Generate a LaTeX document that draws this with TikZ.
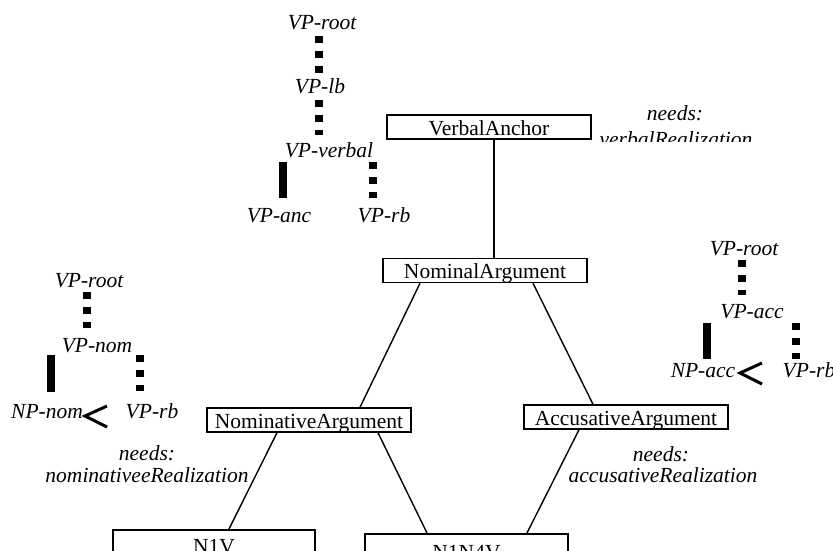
\documentclass[tikz,border=0pt]{standalone}
\usepackage{fontspec}
\setmainfont{Liberation Serif}
\begin{document}
\begin{tikzpicture}[x=1pt,y=-1pt,
  every node/.style={inner sep=0pt, font=\fontsize{21.5}{22}\selectfont},
  lbl/.style={font=\fontsize{21.5}{22}\selectfont\itshape, anchor=base},
  classbox/.style={draw, line width=1.5pt, minimum width=204pt, minimum height=24pt,
                   text height=20pt, text depth=4pt},
  leafbox/.style={draw, line width=1.5pt, minimum width=203pt, anchor=north, text depth=20pt},
  link/.style={line width=1.4pt},
  dotbar/.style={line width=7.5pt, dash pattern=on 7pt off 8pt},
  solidbar/.style={line width=7.5pt},
  prec/.style={line width=3pt}]
\useasboundingbox (0,0) rectangle (833,551);

% hierarchy of argument classes
\node[classbox] (verbal)     at (489,127)   {VerbalAnchor};
\node[classbox] (nominal)    at (485,270.5) {NominalArgument};
\node[classbox] (nominative) at (309,420)   {NominativeArgument};
\node[classbox] (accusative) at (626,417)   {AccusativeArgument};
\node[leafbox, text height=24pt, minimum width=202pt] (n1v)   at (214,529)   {N1V};
\node[leafbox, text height=26pt]                      (n1n4v) at (466.5,533) {N1N4V};

\draw[link] ([shift={(5,0)}]verbal.south)      -- ([shift={(9,0)}]nominal.north);
\draw[link] ([shift={(-65,0)}]nominal.south)   -- ([shift={(51,0)}]nominative.north);
\draw[link] ([shift={(48,0)}]nominal.south)    -- ([shift={(-33,0)}]accusative.north);
\draw[link] ([shift={(-32,0)}]nominative.south) -- ([shift={(15,0)}]n1v.north);
\draw[link] ([shift={(69,0)}]nominative.south)  -- ([shift={(-39.5,0)}]n1n4v.north);
\draw[link] ([shift={(-47,0)}]accusative.south) -- ([shift={(60.5,0)}]n1n4v.north);

% requirement annotations
\node[lbl] (needsVa) at (675,120) {needs:};
\begin{scope}
  \clip (590,95) rectangle (770,141);
  \node[lbl] (needsVb) at (676,146) {verbalRealization};
\end{scope}
\node[lbl] (needsNa) at (147,460) {needs:};
\node[lbl] (needsNb) at (147,482) {nominativeeRealization};
\node[lbl] (needsAa) at (661,461) {needs:};
\node[lbl] (needsAb) at (663,482) {accusativeRealization};

% elementary tree of the verbal anchor
\node[lbl] (rootA) at (322,30)  {VP-root};
\node[lbl] (lbA)   at (320,93)  {VP-lb};
\node[lbl] (verbA) at (329,157) {VP-verbal};
\node[lbl] (ancA)  at (279,222) {VP-anc};
\node[lbl] (rbA)   at (384,222) {VP-rb};
\draw[dotbar]   ([shift={(-3,6)}]rootA.base) -- ([shift={(-1,-20)}]lbA.base);
\draw[dotbar]   ([shift={(-1,7)}]lbA.base)   -- ([shift={(-10,-22)}]verbA.base);
\draw[solidbar] ([shift={(-46,5)}]verbA.base) -- ([shift={(4,-24)}]ancA.base);
\draw[dotbar]   ([shift={(44,5)}]verbA.base)  -- ([shift={(-11,-24)}]rbA.base);

% elementary tree of the nominative argument
\node[lbl] (rootB) at (89,287)  {VP-root};
\node[lbl] (nomB)  at (97,352)  {VP-nom};
\node[lbl] (npB)   at (47,418)  {NP-nom};
\node[lbl] (rbB)   at (152,418) {VP-rb};
\draw[dotbar]   ([shift={(-2,5)}]rootB.base) -- ([shift={(-10,-24)}]nomB.base);
\draw[solidbar] ([shift={(-46,3)}]nomB.base) -- ([shift={(4,-26)}]npB.base);
\draw[dotbar]   ([shift={(43,3)}]nomB.base)  -- ([shift={(-12,-27)}]rbB.base);
\draw[prec] (107,406) -- (85,416) -- (107,427);

% elementary tree of the accusative argument
\node[lbl] (rootC) at (744,255) {VP-root};
\node[lbl] (accC)  at (752,318) {VP-acc};
\node[lbl] (npC)   at (703,377) {NP-acc};
\node[lbl] (rbC)   at (809,377) {VP-rb};
\draw[dotbar]   ([shift={(-2,5)}]rootC.base) -- ([shift={(-10,-23)}]accC.base);
\draw[solidbar] ([shift={(-45,5)}]accC.base) -- ([shift={(4,-18)}]npC.base);
\draw[dotbar]   ([shift={(44,5)}]accC.base)  -- ([shift={(-13,-18)}]rbC.base);
\draw[prec] (762,363) -- (740,373) -- (762,384);
\end{tikzpicture}
\end{document}
